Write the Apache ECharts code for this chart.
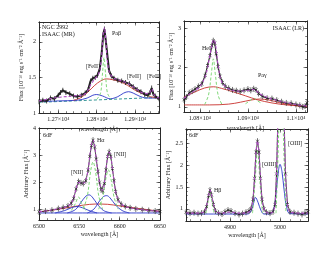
<!DOCTYPE html>
<html><head><meta charset="utf-8">
<script src="https://cdn.jsdelivr.net/npm/echarts@6/dist/echarts.min.js"></script>
<style>html,body{margin:0;padding:0;background:#fff}#c{width:330px;height:255px}</style>
</head><body><div id="c"></div>
<script>
// ---------- Panel 1: NGC 2992 ISAAC (MR), Pa-beta ----------
const p1Wave = [12650,12660,12670,12680,12690,12700,12706,12712,12720,12730,12740,12750,12760,12770,12778,12784,12790,12796,12802,12808,12813,12817,12820,12823,12827,12832,12838,12845,12855,12865,12875,12885,12895,12905,12915,12925,12933,12939,12943,12947,12952,12962];
const p1Flux = [1.16,1.18,1.17,1.21,1.20,1.25,1.29,1.32,1.29,1.27,1.24,1.23,1.25,1.28,1.33,1.45,1.49,1.50,1.53,1.62,1.85,2.10,2.18,2.05,1.85,1.60,1.52,1.49,1.46,1.45,1.43,1.41,1.37,1.33,1.30,1.26,1.25,1.29,1.35,1.27,1.24,1.20];
const p1FitWave = [12650,12700,12740,12770,12785,12795,12805,12812,12816,12820,12824,12828,12834,12845,12860,12880,12900,12920,12935,12943,12950,12962];
const p1Fit = [1.17,1.22,1.24,1.27,1.40,1.48,1.55,1.75,2.05,2.20,2.00,1.72,1.56,1.49,1.46,1.42,1.35,1.28,1.27,1.34,1.25,1.21];
const p1BroadWave = [12740,12760,12780,12795,12810,12825,12840,12860,12880,12900,12920,12940,12962];
const p1Broad = [1.18,1.22,1.31,1.39,1.45,1.48,1.47,1.44,1.39,1.32,1.27,1.23,1.21];
const p1BlueWave = [12650,12700,12750,12775,12790,12800,12815,12835,12855,12870,12883,12895,12910,12930,12962];
const p1Blue = [1.16,1.17,1.18,1.21,1.25,1.26,1.24,1.20,1.23,1.28,1.30,1.28,1.24,1.21,1.21];
const p1NarrowWave = [12800,12810,12815,12819,12823,12828,12838];
const p1Narrow = [1.19,1.28,1.55,1.78,1.55,1.28,1.19];
const p1FeWave = [12933,12939,12943,12947,12953];
const p1Fe = [1.22,1.28,1.35,1.28,1.22];
const p1ContWave = [12650,12962];
const p1Cont = [1.15,1.22];
const p1XTicks = [12700,12800,12900];
const p1YTicks = [1,1.5,2];

// ---------- Panel 2: ISAAC (LR), HeI / Pa-gamma ----------
const p2Wave = [10767,10772,10778,10784,10790,10797,10804,10811,10816,10821,10825,10828,10831,10834,10838,10842,10847,10853,10860,10868,10876,10884,10892,10900,10906,10912,10917,10922,10930,10940,10950,10960,10970,10980,10990,11000,11008,11014,11019,11023];
const p2Flux = [1.18,1.25,1.36,1.40,1.45,1.52,1.58,1.80,2.05,2.30,2.55,2.68,2.62,2.35,2.02,1.78,1.62,1.52,1.47,1.43,1.41,1.39,1.42,1.45,1.42,1.46,1.43,1.34,1.27,1.22,1.21,1.17,1.13,1.10,1.09,1.06,1.04,1.00,1.02,1.10];
const p2FitWave = [10767,10785,10800,10812,10820,10826,10829,10833,10838,10846,10860,10880,10900,10912,10925,10940,10960,10980,11000,11023];
const p2Fit = [1.22,1.38,1.52,1.80,2.25,2.62,2.70,2.55,2.05,1.62,1.46,1.40,1.42,1.44,1.33,1.24,1.17,1.11,1.06,1.02];
const p2BroadHeWave = [10767,10790,10810,10828,10845,10870,10895,10920,10950,10980,11023];
const p2BroadHe = [1.25,1.38,1.48,1.51,1.47,1.38,1.28,1.18,1.10,1.05,1.01];
const p2BroadPaWave = [10767,10820,10860,10885,10905,10925,10945,10965,10990,11023];
const p2BroadPa = [1.05,1.05,1.07,1.12,1.17,1.20,1.17,1.11,1.05,1.00];
const p2NarrowHeWave = [10810,10818,10824,10828,10832,10838,10846];
const p2NarrowHe = [1.06,1.30,1.85,2.22,1.85,1.30,1.06];
const p2NarrowPaWave = [10895,10905,10912,10919,10930];
const p2NarrowPa = [1.08,1.16,1.22,1.16,1.08];
const p2XTicks = [10800,10900,11000];
const p2YTicks = [1,2,3];

// ---------- Panel 3: 6dF, H-alpha + [NII] ----------
const p3Wave = [6500,6508,6516,6524,6530,6536,6540,6543,6546,6549,6552,6555,6558,6561,6563,6565,6567,6569,6571,6573,6575,6577,6579,6581,6583,6585,6587,6589,6591,6593,6595,6598,6602,6607,6613,6620,6628,6636,6644,6650];
const p3Flux = [0.90,0.93,0.96,1.02,1.06,1.12,1.22,1.40,1.75,2.02,1.97,1.95,2.05,2.45,2.95,3.35,3.55,3.30,2.85,2.40,2.00,1.72,1.68,1.95,2.45,2.95,3.12,2.95,2.50,2.05,1.65,1.35,1.18,1.10,1.05,1.01,0.98,0.95,0.93,0.91];
const p3Fit = [0.91,0.93,0.97,1.02,1.06,1.12,1.23,1.42,1.75,1.98,1.98,1.96,2.07,2.48,2.98,3.38,3.55,3.32,2.86,2.40,2.00,1.74,1.70,1.96,2.46,2.93,3.10,2.96,2.52,2.05,1.66,1.36,1.19,1.10,1.05,1.01,0.98,0.95,0.93,0.91];
const p3BroadWave = [6500,6520,6540,6555,6570,6585,6600,6620,6640,6650];
const p3Broad = [0.90,0.98,1.08,1.15,1.19,1.18,1.12,1.04,0.96,0.92];
const p3BlueAWave = [6520,6532,6540,6547,6554,6562,6572];
const p3BlueA = [0.86,0.95,1.05,1.10,1.05,0.95,0.86];
const p3BlueBWave = [6535,6545,6552,6558,6562,6566,6572,6580,6590];
const p3BlueB = [0.86,0.98,1.25,1.48,1.53,1.45,1.20,0.95,0.86];
const p3BlueCWave = [6560,6568,6575,6580,6584,6588,6595,6603,6612];
const p3BlueC = [0.86,1.00,1.30,1.47,1.50,1.42,1.15,0.95,0.86];
const p3BaseWave = [6500,6650];
const p3Base = [0.86,0.86];
const p3NarrowAWave = [6540,6545,6549,6553,6558];
const p3NarrowA = [0.95,1.20,1.45,1.20,0.95];
const p3NarrowBWave = [6555,6560,6564,6567,6570,6574,6579];
const p3NarrowB = [1.00,1.50,2.40,2.75,2.40,1.50,1.00];
const p3NarrowCWave = [6574,6579,6583,6586,6589,6593,6598];
const p3NarrowC = [1.00,1.45,2.15,2.45,2.15,1.45,1.00];
const p3XTicks = [6500,6550,6600,6650];
const p3YTicks = [1,2,3,4];

// ---------- Panel 4: 6dF, H-beta + [OIII] ----------
const p4Wave = [4812,4820,4828,4836,4843,4849,4853,4857,4860,4863,4867,4871,4877,4884,4890,4896,4902,4910,4918,4925,4932,4938,4942,4946,4949,4952,4955,4958,4961,4964,4968,4973,4980,4986,4990,4993,4996,4999,5002,5005,5008,5011,5015,5020,5028,5036,5044,5050,5056];
const p4Flux = [0.92,0.90,0.91,0.89,0.90,0.93,1.05,1.30,1.43,1.32,1.10,0.95,0.90,0.88,0.93,0.97,0.95,0.90,0.87,0.89,0.92,0.95,1.00,1.22,1.70,2.30,2.55,2.30,1.70,1.22,1.00,0.92,0.90,0.93,1.10,1.80,3.20,5.00,5.80,5.00,3.20,1.80,1.10,0.93,0.91,0.89,0.87,0.90,0.93];
const p4Fit = [0.91,0.90,0.90,0.90,0.91,0.94,1.06,1.30,1.43,1.32,1.10,0.95,0.91,0.90,0.91,0.92,0.92,0.91,0.90,0.90,0.91,0.93,1.00,1.22,1.70,2.30,2.55,2.30,1.70,1.22,1.00,0.92,0.90,0.93,1.10,1.80,3.20,5.00,5.80,5.00,3.20,1.80,1.10,0.93,0.91,0.90,0.90,0.90,0.91];
const p4BlueWave = [4812,4935,4942,4947,4951,4956,4962,4968,4980,4988,4993,4997,5000,5004,5008,5013,5020,5056];
const p4Blue = [0.88,0.88,0.95,1.12,1.26,1.15,0.96,0.88,0.88,1.02,1.45,1.88,2.02,1.85,1.45,1.05,0.89,0.88];
const p4NarrowHbWave = [4852,4856,4860,4864,4868];
const p4NarrowHb = [0.90,1.15,1.40,1.15,0.90];
const p4NarrowO1Wave = [4945,4950,4955,4960,4965];
const p4NarrowO1 = [0.90,1.60,2.35,1.60,0.90];
const p4NarrowO2Wave = [4992,4997,5002,5007,5012];
const p4NarrowO2 = [0.90,2.60,5.20,2.60,0.90];
const p4XTicks = [4900,5000];
const p4YTicks = [1,1.5,2,2.5];

// ---------- styling / construction ----------
const FONT = 'Liberation Serif';
const INK = '#222';
const MAG = '#b04cc4', GRN = '#72d46a', RED = '#c8302c', BLU = '#2a36c8', TEAL = '#1f8a8a';

function pairs(xs, ys) { return xs.map((x, i) => [x, ys[i]]); }
function steps(a, b, s) { const r = []; for (let v = a; v <= b + 1e-9; v += s) r.push(+v.toFixed(4)); return r; }
const sci = v => parseFloat((v / 1e4).toFixed(2)) + '×10⁴';
const plain = v => String(v);

function axes(dim, gi, min, max, major, minor, fmt, name, nameGap) {
  const pos = dim === 'x' ? ['bottom', 'top'] : ['left', 'right'];
  const out = [];
  pos.forEach((p, k) => {
    [[major, 3.5], [minor, 1.8]].forEach(([vals, len], j) => {
      const lab = k === 0 && j === 0;
      out.push({
        type: 'value', gridIndex: gi, position: p, min, max,
        name: lab ? name : '', nameLocation: 'middle', nameGap,
        nameRotate: dim === 'y' ? 90 : 0,
        nameTextStyle: { fontFamily: FONT, fontSize: 6, color: INK },
        axisLine: { show: true, onZero: false, lineStyle: { color: INK, width: 0.8 } },
        axisTick: { show: true, inside: true, length: len, customValues: vals, lineStyle: { color: INK, width: 0.6 } },
        axisLabel: { show: lab, customValues: vals, formatter: fmt, fontFamily: FONT, fontSize: 6, color: INK, margin: 3,
                     interval: 0, showMinLabel: true, showMaxLabel: true, hideOverlap: false },
        splitLine: { show: false }
      });
    });
  });
  return out;
}

function ln(gi, xs, ys, color, extra) {
  return Object.assign({
    type: 'line', xAxisIndex: gi * 4, yAxisIndex: gi * 4, data: pairs(xs, ys),
    symbol: 'none', smooth: 0.35, clip: true, silent: true,
    lineStyle: { color, width: 0.9 }, itemStyle: { color }
  }, extra || {});
}
const dash = (color, w) => ({ lineStyle: { color, width: w || 0.9, type: [3, 2] } });
const ERRX = 'path://M0,3L6,9M6,3L0,9M3,0L3,12';
function dataLine(gi, xs, ys, w, sym, size) {
  return ln(gi, xs, ys, INK, {
    smooth: false, symbol: sym, symbolSize: size, showSymbol: true, z: 3,
    lineStyle: { color: INK, width: w },
    itemStyle: { color: sym === 'rect' ? INK : 'rgba(0,0,0,0)', borderColor: INK, borderWidth: sym === 'rect' ? 0 : 0.6 }
  });
}

const fluxName = 'Flux [10⁻¹⁶ erg s⁻¹ cm⁻² Å⁻¹]';
const arbName = 'Arbitrary Flux [Å⁻¹]';
const wlName = 'wavelength [Å]';

const xAxis = [].concat(
  axes('x', 0, 12650, 12962, p1XTicks, steps(12660, 12960, 20), sci, wlName, 13),
  axes('x', 1, 10767, 11023, p2XTicks, steps(10780, 11020, 20), sci, wlName, 13),
  axes('x', 2, 6500, 6650, p3XTicks, steps(6500, 6650, 10), plain, wlName, 11),
  axes('x', 3, 4812, 5056, p4XTicks, steps(4820, 5050, 20), plain, wlName, 11)
);
const yAxis = [].concat(
  axes('y', 0, 1, 2.28, p1YTicks, steps(1, 2.2, 0.1), plain, fluxName, 13),
  axes('y', 1, 0.87, 3.18, p2YTicks, steps(1, 3.0, 0.2), plain, fluxName, 9),
  axes('y', 2, 0.6, 4, p3YTicks, steps(0.6, 4, 0.2), plain, arbName, 10),
  axes('y', 3, 0.72, 2.83, p4YTicks, steps(0.8, 2.8, 0.1), plain, arbName, 13)
);

const series = [
  // panel 1
  ln(0, p1ContWave, p1Cont, TEAL, dash(TEAL)),
  ln(0, p1BlueWave, p1Blue, BLU),
  ln(0, p1BroadWave, p1Broad, RED),
  ln(0, p1NarrowWave, p1Narrow, GRN, dash(GRN)),
  ln(0, p1FeWave, p1Fe, GRN, dash(GRN)),
  dataLine(0, p1Wave, p1Flux, 2, 'rect', [0.8, 5]),
  ln(0, p1FitWave, p1Fit, MAG, Object.assign(dash(MAG, 1.1), { z: 4 })),
  // panel 2
  ln(1, p2BroadPaWave, p2BroadPa, RED),
  ln(1, p2BroadHeWave, p2BroadHe, RED),
  ln(1, p2NarrowHeWave, p2NarrowHe, GRN, dash(GRN)),
  ln(1, p2NarrowPaWave, p2NarrowPa, GRN, dash(GRN)),
  dataLine(1, p2Wave, p2Flux, 1.1, ERRX, [3, 6]),
  ln(1, p2FitWave, p2Fit, MAG, Object.assign(dash(MAG, 1.1), { z: 4 })),
  // panel 3
  ln(2, p3BaseWave, p3Base, BLU),
  ln(2, p3BroadWave, p3Broad, RED),
  ln(2, p3BlueAWave, p3BlueA, BLU),
  ln(2, p3BlueBWave, p3BlueB, BLU),
  ln(2, p3BlueCWave, p3BlueC, BLU),
  ln(2, p3NarrowAWave, p3NarrowA, GRN, dash(GRN)),
  ln(2, p3NarrowBWave, p3NarrowB, GRN, dash(GRN)),
  ln(2, p3NarrowCWave, p3NarrowC, GRN, dash(GRN)),
  dataLine(2, p3Wave, p3Flux, 0.8, ERRX, [3, 6]),
  ln(2, p3Wave, p3Fit, MAG, Object.assign(dash(MAG, 1.1), { z: 4 })),
  // panel 4
  ln(3, p4BlueWave, p4Blue, BLU),
  ln(3, p4NarrowHbWave, p4NarrowHb, GRN, dash(GRN)),
  ln(3, p4NarrowO1Wave, p4NarrowO1, GRN, dash(GRN)),
  ln(3, p4NarrowO2Wave, p4NarrowO2, GRN, dash(GRN)),
  dataLine(3, p4Wave, p4Flux, 0.8, ERRX, [3, 6]),
  ln(3, p4Wave, p4Fit, MAG, Object.assign(dash(MAG, 1.1), { z: 4 }))
];

function txt(x, y, text, align) {
  const a = align || 'left';
  return { type: 'text', x, y, z: 100, silent: true,
    style: { text, fontFamily: FONT, fontSize: 6, fill: INK, textAlign: a, align: a, textVerticalAlign: 'middle', verticalAlign: 'middle' } };
}

const chart = echarts.init(document.getElementById('c'), null, { renderer: 'canvas' });
chart.setOption({
  animation: false,
  backgroundColor: '#fff',
  grid: [
    { left: 39, top: 22, width: 120, height: 91 },
    { left: 184, top: 21, width: 123, height: 91 },
    { left: 39, top: 128, width: 121, height: 92 },
    { left: 186, top: 129, width: 122, height: 92 }
  ],
  xAxis, yAxis, series,
  graphic: [
    txt(42, 27, 'NGC 2992'), txt(42, 34, 'ISAAC (MR)'),
    txt(112, 33, 'Paβ'), txt(86, 66, '[FeII]'), txt(127, 76, '[FeII]'), txt(147, 76, '[FeII]'),
    txt(304, 28, 'ISAAC (LR)', 'right'), txt(202, 48, 'HeI'), txt(258, 75, 'Paγ'),
    txt(43, 135, '6dF'), txt(97, 140, 'Hα'), txt(71, 172, '[NII]'), txt(114, 154, '[NII]'),
    txt(189, 135, '6dF'), txt(214, 190, 'Hβ'), txt(262, 164, '[OIII]'), txt(288, 143, '[OIII]')
  ]
});
</script></body></html>
